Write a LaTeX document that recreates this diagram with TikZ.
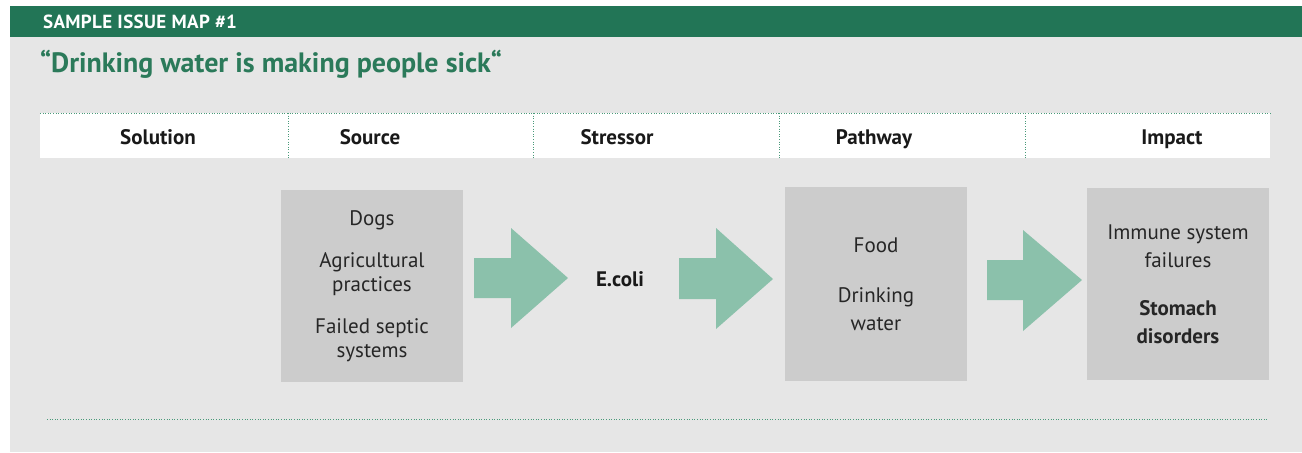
\documentclass[tikz,border=0pt]{standalone}
\usepackage{fontspec}
\setmainfont{PT Sans}
\definecolor{mapgreen}{HTML}{227556}
\definecolor{titlegreen}{HTML}{2B7A5A}
\definecolor{bggrey}{HTML}{E6E6E6}
\definecolor{boxgrey}{HTML}{CCCCCC}
\definecolor{flowgreen}{HTML}{8BC1AB}
\definecolor{dotgreen}{HTML}{4A9A7A}
\begin{document}
\begin{tikzpicture}[x = 0.5pt, y = -0.5pt,
    dotline/.style = {color = dotgreen, line width = 0.5pt, dash pattern = on 0.5pt off 0.8pt},
    head/.style = {anchor = base, font = \fontsize{10.5}{12}\selectfont\bfseries, text = black!90},
    box/.style = {fill = boxgrey, minimum width = 91pt, minimum height = 96pt, inner sep = 0pt,
      align = center, text = black!85, font = \fontsize{10.5}{12}\selectfont},
    flow/.style = {fill = flowgreen}]

      \useasboundingbox (0, 0) rectangle (1302, 452);
      \fill[bggrey] (10, 37) rectangle (1302, 452);
      \fill[mapgreen] (10, 6) rectangle (1302, 37);
      \node[anchor = west, text = white, font = \fontsize{9.5}{10}\selectfont\bfseries\addfontfeatures{LetterSpace = 2}] (band) at (36, 22) {SAMPLE ISSUE MAP \#1};
      \node[anchor = west, text = titlegreen, font = \fontsize{14}{15}\selectfont\bfseries] (title) at (33, 64) {“Drinking water is making people sick“};

      % column headings
      \fill[white] (40, 113) rectangle (1270, 158);
      \draw[dotline] (40, 113) -- (1270, 113);
      \draw[dotline] (288, 113) -- (288, 158);
      \draw[dotline] (533, 113) -- (533, 158);
      \draw[dotline] (779, 113) -- (779, 158);
      \draw[dotline] (1025, 113) -- (1025, 158);
      \node[head] (solution) at (158, 144) {Solution};
      \node[head] (source) at (370, 144) {Source};
      \node[head] (stressor) at (617, 144) {Stressor};
      \node[head] (pathway) at (874, 144) {Pathway};
      \node[head] (impact) at (1172, 144) {Impact};

      % issue chain
      \node[box] (dogs) at (372, 286) {Dogs\\[9pt]Agricultural\\practices\\[9pt]Failed septic\\systems};
      \node[font = \fontsize{10.5}{12}\selectfont\bfseries, text = black!90] (ecoli) at (620, 279) {E.coli};
      \node[box, minimum height = 97pt, font = \fontsize{10.5}{14}\selectfont] (water) at (876, 284) {Food\\[11pt]Drinking\\water};
      \node[box, font = \fontsize{10.5}{14}\selectfont] (sick) at (1178, 284) {Immune system\\failures\\[10pt]\textbf{Stomach}\\\textbf{disorders}};

      \fill[flow] (474, 258) -- (511, 258) -- (511, 228) -- (568, 278) -- (511, 328) -- (511, 298) -- (474, 298) -- cycle;
      \fill[flow] (679, 258) -- (716, 258) -- (716, 228) -- (773, 279) -- (716, 329) -- (716, 299) -- (679, 299) -- cycle;
      \fill[flow] (987, 260) -- (1023, 260) -- (1023, 230) -- (1082, 280) -- (1023, 331) -- (1023, 300) -- (987, 300) -- cycle;

      \draw[dotline] (47, 419) -- (1268, 419);

    \end{tikzpicture}
\end{document}
